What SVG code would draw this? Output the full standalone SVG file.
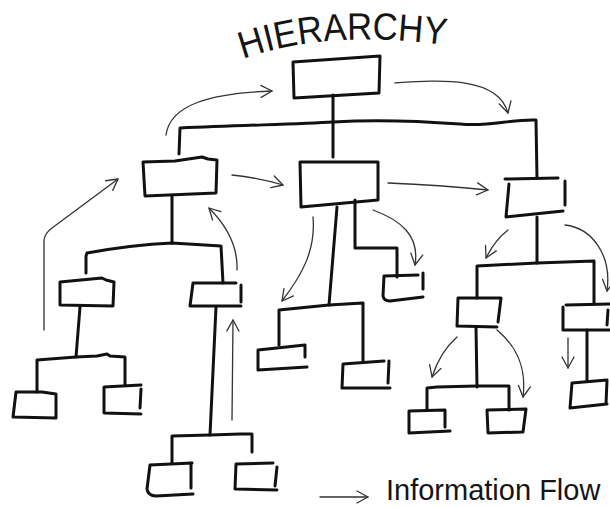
<svg xmlns="http://www.w3.org/2000/svg" width="610" height="508" viewBox="0 0 610 508">
<style>
.box{fill:none;stroke:#111;stroke-width:3;stroke-linecap:round;stroke-linejoin:round}
.link{fill:none;stroke:#111;stroke-width:3;stroke-linecap:round;stroke-linejoin:round}
.flow{fill:none;stroke:#333;stroke-width:1.3;stroke-linecap:round;marker-end:url(#v)}
.txt{font-family:"Liberation Sans","DejaVu Sans",sans-serif;fill:#151515}
</style>
<defs>
<marker id="v" markerUnits="userSpaceOnUse" markerWidth="16" markerHeight="16" refX="12" refY="7" orient="auto">
<path d="M1,1 L12,7 L1,13" fill="none" stroke="#333" stroke-width="1.3" stroke-linecap="round" stroke-linejoin="round"/>
</marker>
<path id="arc" d="M243,59 Q330,28 452,46"/>
</defs>
<rect width="610" height="508" fill="#fff"/>
<text class="txt" font-size="38" textLength="205" lengthAdjust="spacingAndGlyphs"><textPath href="#arc">HIERARCHY</textPath></text>

<g id="connectors">
<path class="link" d="M333,95 L333,157"/>
<path class="link" d="M179,154 L180,128 C250,125 300,124 333,122 C380,119 420,121 460,124 C490,127 510,119 536,120 L537,178"/>
<path class="link" d="M172,196 L172,243"/>
<path class="link" d="M86,273 L86,256 L87,253 C120,247 150,244 172,243 L221,246 L223,283"/>
<path class="link" d="M80,307 L76,357"/>
<path class="link" d="M37,392 L37,360 L76,357 L97,356 L107,354 L110,356 L125,357 L125,385"/>
<path class="link" d="M216,307 L210,435"/>
<path class="link" d="M172,463 L172,436 L210,435 L240,434 L252,434 L252,452"/>
<path class="link" d="M337,207 L329,305"/>
<path class="link" d="M355,200 L355,248 L397,248 L397,277"/>
<path class="link" d="M279,345 L279,310 L329,305 L363,303 L363,362"/>
<path class="link" d="M537,217 L537,263"/>
<path class="link" d="M477,298 L477,266 L537,263 L594,261 L594,304"/>
<path class="link" d="M476,327 L477,387"/>
<path class="link" d="M427,410 L427,388 L437,387 L477,386 L509,386 L509,410"/>
<path class="link" d="M587,330 L587,381"/>

<path class="flow" d="M166,135 C170,105 210,93 272,91"/>
<path class="flow" d="M395,83 C440,80 498,76 508,113"/>
<path class="flow" d="M232,175 Q260,178 283,185"/>
<path class="flow" d="M388,183 Q440,185 488,190"/>
<path class="flow" d="M44,330 L44,240 Q45,233 52,228 L118,179"/>
<path class="flow" d="M237,270 C238,245 226,225 209,208"/>
<path class="flow" d="M232,420 L233,320"/>
<path class="flow" d="M313,217 C316,250 302,275 282,301"/>
<path class="flow" d="M373,210 C400,220 420,235 415,265"/>
<path class="flow" d="M508,230 Q495,240 486,258"/>
<path class="flow" d="M565,225 C592,228 612,255 607,291"/>
<path class="flow" d="M568,338 L568,368"/>
<path class="flow" d="M457,337 Q440,352 432,377"/>
<path class="flow" d="M497,330 C515,345 527,365 523,397"/>
<path class="flow" d="M320,497 L368,497"/>
</g>

<g id="node-top"><path class="box" d="M293,62 L380,56 L379,93 L294,98 Z"/></g>
<g id="node-a"><path class="box" d="M143,162 L175,161 L202,157 L208,159 L217,160 L216,193 L145,196 Z"/></g>
<g id="node-b"><path class="box" d="M300,162 L378,162 L378,200 L301,207 Z"/></g>
<g id="node-c"><path class="box" d="M505,179 L558,178 M565,181 L565,205 M509,184 L506,217 L563,211"/></g>
<g id="node-d"><path class="box" d="M60,282 L102,278 L106,280 L114,282 L113,306 L60,305 Z"/></g>
<g id="node-e"><path class="box" d="M193,283 L236,283 M241,285 L241,302 M193,283 L190,306 L241,306"/></g>
<g id="node-f"><path class="box" d="M16,392 L42,392 L56,394 L56,418 L13,417 Z"/></g>
<g id="node-g"><path class="box" d="M104,387 L141,385 M141,389 L140,408 M104,387 L104,413 L141,414"/></g>
<g id="node-h"><path class="box" d="M150,465 L192,463 M191,463 L191,488 M150,465 L147,489 Q148,496 156,496 L193,494"/></g>
<g id="node-i"><path class="box" d="M236,464 L273,463 M277,467 L275,486 M236,464 L235,489 L277,490"/></g>
<g id="node-j"><path class="box" d="M384,276 L418,275 M423,273 L423,289 M384,276 L383,296 Q384,301 390,301 L423,297"/></g>
<g id="node-k"><path class="box" d="M258,350 L305,345 L305,357 M258,350 L258,370 L307,367"/></g>
<g id="node-l"><path class="box" d="M343,364 L384,361 M389,361 L388,383 M343,364 L342,388 L390,388"/></g>
<g id="node-m"><path class="box" d="M458,298 L501,298 L498,322 M458,298 L457,326 L497,327"/></g>
<g id="node-n"><path class="box" d="M566,305 L610,304 M563,307 L563,330 L610,330 M608,310 L607,325"/></g>
<g id="node-o"><path class="box" d="M572,383 L607,380 L606,404 M572,383 L570,408 L607,404"/></g>
<g id="node-p"><path class="box" d="M409,411 L445,410 L445,427 M409,411 L409,433 L450,431"/></g>
<g id="node-q"><path class="box" d="M487,410 L526,409 L523,432 L488,433 Z"/></g>

<text class="txt" x="386" y="500" font-size="29">Information Flow</text>
</svg>
